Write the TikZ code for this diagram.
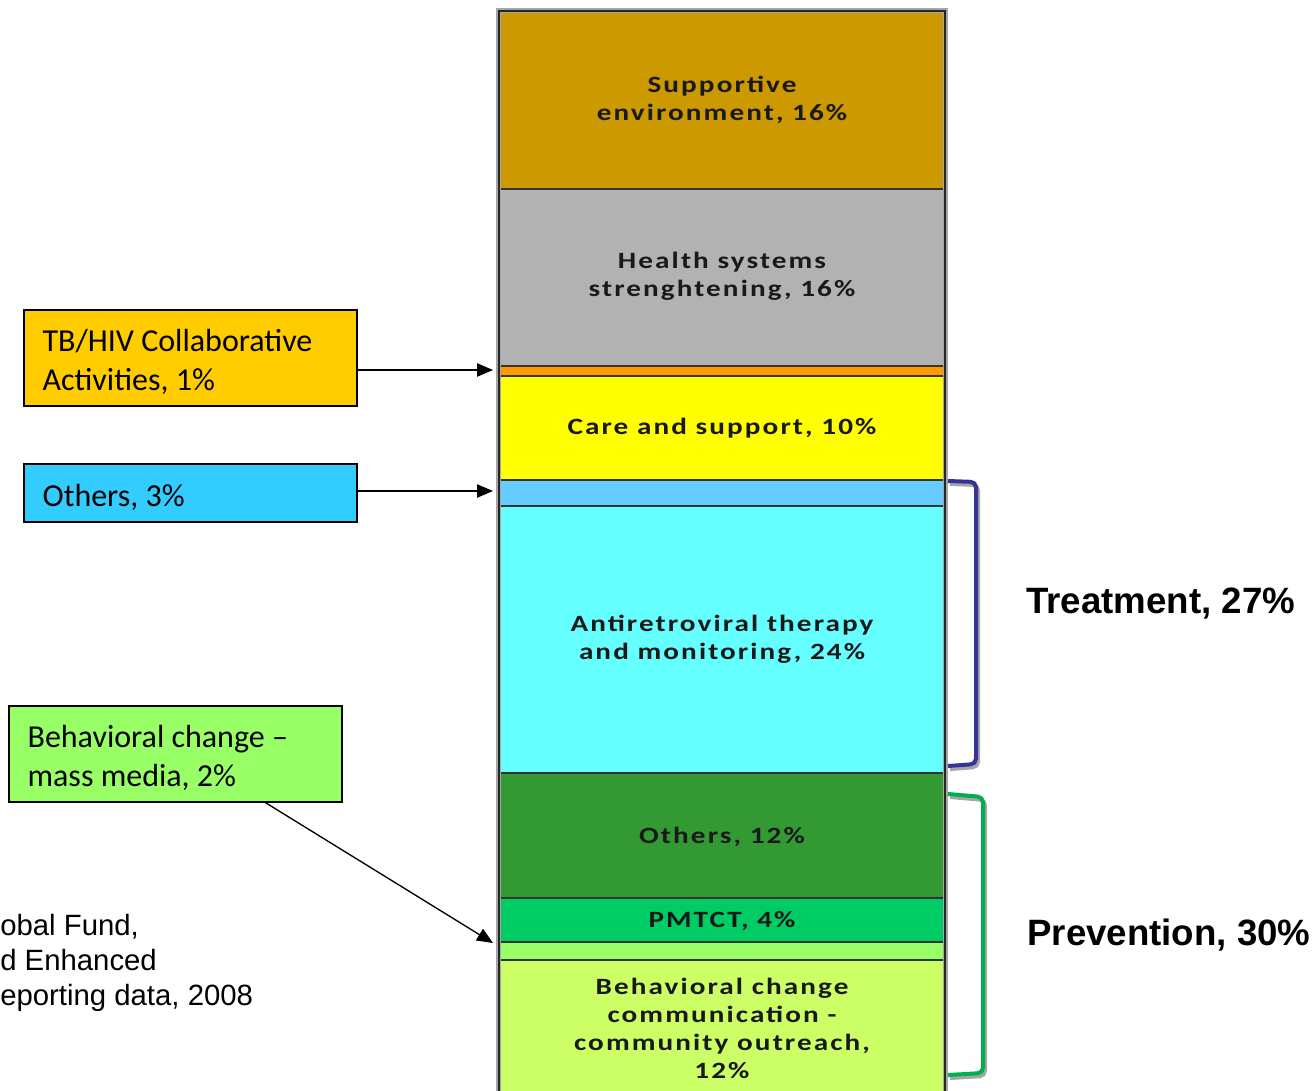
\documentclass[tikz,border=0pt]{standalone}
\usepackage{fontspec}
\usetikzlibrary{arrows.meta}
\setmainfont{Carlito}
\newfontfamily\barfont{Carlito}[LetterSpace=9,FakeStretch=1.25]
\newfontfamily\arialfont{Liberation Sans}
\definecolor{cSupp}{HTML}{CC9900}
\definecolor{cHealth}{HTML}{B2B2B2}
\definecolor{cOrange}{HTML}{FF9900}
\definecolor{cYellow}{HTML}{FFFF00}
\definecolor{cLBlue}{HTML}{66CCFF}
\definecolor{cCyan}{HTML}{66FFFF}
\definecolor{cDGreen}{HTML}{339933}
\definecolor{cPMTCT}{HTML}{00CC66}
\definecolor{cLGreen}{HTML}{99FF66}
\definecolor{cYGreen}{HTML}{CCFF66}
\definecolor{cBoxY}{HTML}{FFCC00}
\definecolor{cBoxB}{HTML}{33CCFF}
\definecolor{cBrT}{HTML}{333399}
\definecolor{cBrP}{HTML}{00B050}
\begin{document}
\begin{tikzpicture}[x=0.75pt,y=-0.75pt,
  seg/.style={draw=black!80,line width=1pt},
  bartext/.style={font=\barfont\bfseries\fontsize{17.5}{21}\selectfont,align=center,text=black!90,inner sep=0pt},
  sidebox/.style={draw=black,line width=1pt,minimum width=249.75pt,inner sep=0pt},
  sidetext/.style={anchor=west,inner xsep=14.25pt,inner ysep=0pt,align=left,font=\fontsize{24}{29.25}\selectfont},
  arr/.style={draw=black,line width=1pt,-{Triangle[length=12pt,width=10pt]}},
  bigtext/.style={font=\arialfont\bfseries\fontsize{27.5}{33}\selectfont,anchor=west,inner sep=0pt},
  brace/.style={line width=3pt,rounded corners=4pt},
  braceshadow/.style={line width=3pt,rounded corners=4pt,draw=black!35}]
\useasboundingbox (0,0) rectangle (1316,1091);
% bar segments
\path[seg,fill=cSupp] (499,11) rectangle (945,189);
\path[seg,fill=cHealth] (499,189) rectangle (945,366);
\path[seg,fill=cOrange] (499,366) rectangle (945,376);
\path[seg,fill=cYellow] (499,376) rectangle (945,480);
\path[seg,fill=cLBlue] (499,480) rectangle (945,506);
\path[seg,fill=cCyan] (499,506) rectangle (945,773);
\path[seg,fill=cDGreen] (499,773) rectangle (945,898);
\path[seg,fill=cPMTCT] (499,898) rectangle (945,942);
\path[seg,fill=cLGreen] (499,942) rectangle (945,960);
\path[seg,fill=cYGreen] (499,960) rectangle (945,1095);
\draw[black!35,line width=3.6pt] (498.5,1095) -- (498.5,10.5) -- (945.5,10.5) -- (945.5,1095);
\draw[black!85,line width=1.6pt] (499,1095) -- (499,11) -- (945,11) -- (945,1095);
% bar labels
\node[bartext] (supp) at (722,100) {Supportive\\environment, 16\%};
\node[bartext] (hss) at (722,276) {Health systems\\strenghtening, 16\%};
\node[bartext] (care) at (722,428) {Care and support, 10\%};
\node[bartext] (art) at (722,639) {Antiretroviral therapy\\and monitoring, 24\%};
\node[bartext] (oth) at (722,837) {Others, 12\%};
\node[bartext] (pmtct) at (722,921) {PMTCT, 4\%};
\node[bartext] (bcc) at (722,1028) {Behavioral change\\communication -\\community outreach,\\12\%};
% side boxes
\node[sidebox,fill=cBoxY,minimum height=72pt] (tbhiv) at (190.5,358) {};
\node[sidetext] (tbhivtxt) at ([yshift=-3pt]tbhiv.west) {TB/HIV Collaborative\\Activities, 1\%};
\node[sidebox,fill=cBoxB,minimum height=43.5pt] (others) at (190.5,493) {};
\node[sidetext] (otherstxt) at ([yshift=-3pt]others.west) {Others, 3\%};
\node[sidebox,fill=cLGreen,minimum height=72pt] (mass) at (175.5,754) {};
\node[sidetext] (masstxt) at ([yshift=-3pt]mass.west) {Behavioral change --\\mass media, 2\%};
% arrow targets
\coordinate (tTB) at (493,370);
\coordinate (tOth) at (493,491);
\coordinate (tMass) at (493,943);
\draw[arr] (tbhiv.east |- tTB) -- (tTB);
\draw[arr] (others.east |- tOth) -- (tOth);
\draw[arr] ([xshift=67.5pt]mass.south) -- (tMass);
% brackets
\draw[braceshadow] (950,484) -- (978,485) -- (978,767) -- (950,769);
\draw[brace,cBrT] (948,481) -- (976,482) -- (976,764) -- (948,766);
\draw[braceshadow] (950,797) -- (985,800) -- (985,1076) -- (950,1078);
\draw[brace,cBrP] (948,794) -- (983,797) -- (983,1073) -- (948,1075);
% bracket labels
\node[bigtext] (treat) at (1026,604) {Treatment, 27\%};
\node[bigtext] (prev) at (1027,935) {Prevention, 30\%};
% source note (clipped at left)
\node[font=\arialfont\fontsize{22}{26.25}\selectfont,align=left,anchor=base west,inner sep=0pt] (src) at (0,1005) {obal Fund,\\d Enhanced\\eporting data, 2008};
\end{tikzpicture}
\end{document}
